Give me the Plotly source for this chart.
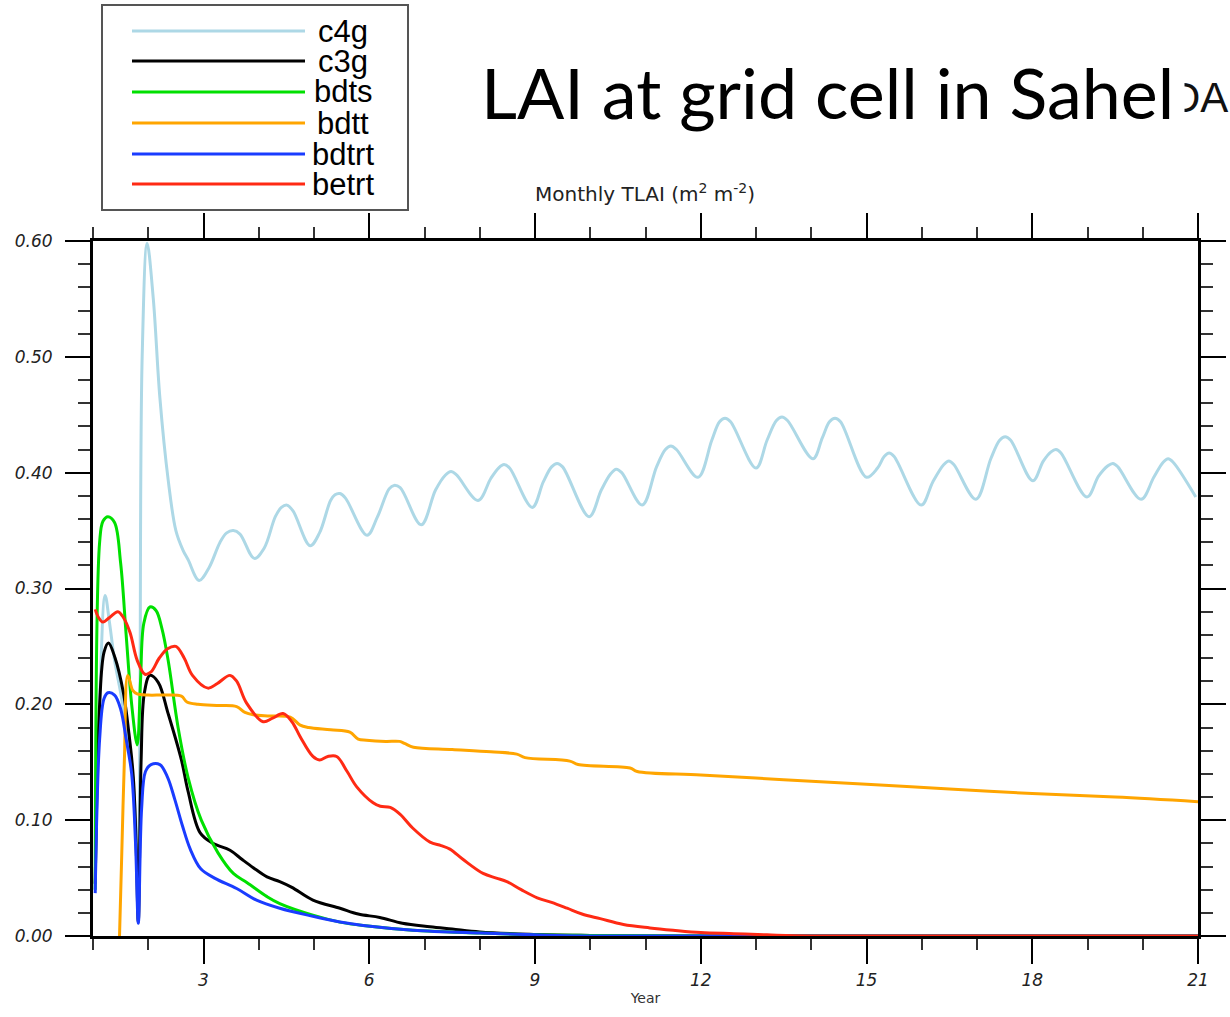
import plotly.graph_objects as go

# ---------------- data ----------------
series_names = ["c4g", "c3g", "bdts", "bdtt", "bdtrt", "betrt"]
series_colors = ["#add8e6", "#000000", "#00e000", "#ffa500", "#1a3cff", "#ff2a14"]

c4g_year = [1.04, 1.12, 1.22, 1.30, 1.39, 1.50, 1.58, 1.69, 1.78, 1.82, 1.85, 1.89, 1.98,
            2.09, 2.21, 2.36, 2.50, 2.63, 2.72, 2.92, 3.10, 3.30, 3.42, 3.54, 3.66, 3.92,
            4.10, 4.30, 4.41, 4.51, 4.62, 4.93, 5.10, 5.30, 5.38, 5.47, 5.57, 5.96, 6.15,
            6.36, 6.45, 6.56, 6.94, 7.20, 7.38, 7.48, 7.58, 7.97, 8.20, 8.34, 8.44, 8.54,
            8.95, 9.15, 9.30, 9.40, 9.50, 9.98, 10.20, 10.37, 10.47, 10.57, 10.94, 11.20,
            11.36, 11.46, 11.56, 11.95, 12.20, 12.34, 12.44, 12.54, 13.00, 13.20, 13.37,
            13.47, 13.57, 14.03, 14.20, 14.33, 14.43, 14.53, 15.00, 15.20, 15.32, 15.41,
            15.50, 15.99, 16.20, 16.40, 16.49, 16.58, 16.98, 17.25, 17.41, 17.51, 17.61,
            18.01, 18.20, 18.34, 18.43, 18.52, 18.99, 19.20, 19.37, 19.46, 19.55, 19.97,
            20.20, 20.37, 20.46, 20.55, 20.96]
c4g_lai = [0.040, 0.200, 0.294, 0.270, 0.238, 0.210, 0.186, 0.152, 0.094, 0.037, 0.200, 0.500, 0.598,
           0.551, 0.465, 0.394, 0.350, 0.333, 0.325, 0.307, 0.318, 0.340, 0.348, 0.350, 0.347, 0.326,
           0.335, 0.362, 0.370, 0.372, 0.367, 0.337, 0.348, 0.376, 0.381, 0.382, 0.378, 0.346, 0.362,
           0.386, 0.389, 0.387, 0.355, 0.385, 0.398, 0.401, 0.398, 0.376, 0.395, 0.404, 0.407, 0.404,
           0.370, 0.392, 0.405, 0.408, 0.405, 0.362, 0.385, 0.399, 0.403, 0.400, 0.372, 0.405,
           0.420, 0.423, 0.420, 0.396, 0.428, 0.444, 0.447, 0.444, 0.404, 0.428, 0.445,
           0.448, 0.445, 0.412, 0.430, 0.444, 0.447, 0.444, 0.396, 0.404, 0.414, 0.417,
           0.414, 0.372, 0.392, 0.407, 0.410, 0.407, 0.377, 0.412, 0.428, 0.431, 0.428,
           0.393, 0.410, 0.418, 0.420, 0.417, 0.379, 0.397, 0.406, 0.408, 0.405, 0.377,
           0.396, 0.409, 0.412, 0.409, 0.379]

c3g_year = [1.04, 1.12, 1.20, 1.28, 1.40, 1.55, 1.65, 1.73, 1.78, 1.82, 1.87, 1.93, 2.03,
            2.18, 2.36, 2.60, 2.72, 2.94, 3.17, 3.48, 3.70, 3.90, 4.15, 4.38, 4.60, 4.98,
            5.47, 5.80, 6.19, 6.60, 7.10, 7.50, 8.00, 8.90, 10.00, 11.00, 21.00]
c3g_lai = [0.045, 0.200, 0.245, 0.253, 0.240, 0.210, 0.175, 0.137, 0.080, 0.012, 0.150, 0.210, 0.225,
           0.219, 0.192, 0.152, 0.125, 0.089, 0.080, 0.074, 0.066, 0.059, 0.051, 0.047, 0.042, 0.031,
           0.024, 0.019, 0.016, 0.011, 0.008, 0.006, 0.0035, 0.0015, 0.0005, 0.0, 0.0]

bdts_year = [1.04, 1.12, 1.18, 1.27, 1.39, 1.50, 1.60, 1.70, 1.80, 1.86, 1.92, 2.03, 2.14,
             2.25, 2.36, 2.54, 2.72, 2.96, 3.26, 3.54, 3.79, 4.15, 4.38, 4.98, 5.47, 5.89,
             6.79, 8.00, 9.00, 10.00, 12.00, 21.00]
bdts_lai = [0.040, 0.340, 0.358, 0.362, 0.357, 0.322, 0.260, 0.200, 0.165, 0.220, 0.270, 0.284, 0.281,
            0.265, 0.238, 0.180, 0.137, 0.100, 0.072, 0.054, 0.046, 0.034, 0.028, 0.018, 0.012, 0.009,
            0.005, 0.0026, 0.001, 0.0005, 0.0, 0.0]

bdtt_year = [1.48, 1.52, 1.57, 1.63, 1.72, 1.80, 2.00, 2.30, 2.60, 2.70, 2.90, 3.30, 3.60,
             3.75, 3.90, 4.20, 4.57, 4.75, 4.90, 5.30, 5.65, 5.80, 5.95, 6.30, 6.55, 6.65,
             6.80, 7.50, 8.20, 8.67, 8.82, 9.63, 9.78, 10.72, 10.85, 12.00, 13.50, 15.00,
             16.50, 18.00, 19.50, 21.00]
bdtt_lai = [0.000, 0.070, 0.155, 0.225, 0.212, 0.209, 0.208, 0.208, 0.207, 0.202, 0.200, 0.199, 0.198,
            0.193, 0.191, 0.190, 0.189, 0.182, 0.180, 0.178, 0.176, 0.170, 0.169, 0.168, 0.168, 0.166,
            0.163, 0.161, 0.159, 0.157, 0.154, 0.151, 0.148, 0.145, 0.142, 0.139, 0.135, 0.131,
            0.127, 0.123, 0.120, 0.116]

bdtrt_year = [1.04, 1.12, 1.20, 1.27, 1.39, 1.50, 1.60, 1.70, 1.77, 1.82, 1.88, 1.95, 2.05,
              2.21, 2.35, 2.48, 2.62, 2.76, 2.95, 3.20, 3.60, 3.96, 4.38, 4.98, 5.47, 5.89,
              6.79, 8.00, 9.00, 10.00, 21.00]
bdtrt_lai = [0.037, 0.170, 0.205, 0.210, 0.208, 0.196, 0.170, 0.140, 0.080, 0.011, 0.110, 0.142, 0.148,
             0.148, 0.137, 0.118, 0.095, 0.075, 0.058, 0.050, 0.041, 0.031, 0.024, 0.017, 0.012, 0.009,
             0.005, 0.0025, 0.001, 0.0, 0.0]

betrt_year = [1.04, 1.10, 1.18, 1.30, 1.45, 1.55, 1.67, 1.80, 1.94, 2.05, 2.20, 2.35, 2.50,
              2.65, 2.80, 3.08, 3.25, 3.48, 3.60, 3.78, 4.08, 4.25, 4.44, 4.60, 4.75, 4.98,
              5.10, 5.25, 5.41, 5.60, 5.77, 6.07, 6.20, 6.38, 6.56, 6.79, 7.10, 7.30, 7.46,
              7.70, 8.06, 8.30, 8.49, 8.75, 9.04, 9.30, 9.58, 9.85, 10.18, 10.60, 11.08,
              11.50, 12.00, 12.60, 13.20, 14.00, 21.00]
betrt_lai = [0.282, 0.275, 0.271, 0.275, 0.280, 0.275, 0.262, 0.238, 0.226, 0.228, 0.240, 0.248, 0.250,
             0.240, 0.225, 0.214, 0.218, 0.225, 0.220, 0.201, 0.185, 0.188, 0.192, 0.185, 0.172, 0.155,
             0.152, 0.155, 0.155, 0.142, 0.129, 0.115, 0.112, 0.111, 0.105, 0.093, 0.081, 0.078, 0.075,
             0.066, 0.054, 0.050, 0.047, 0.040, 0.033, 0.029, 0.024, 0.019, 0.015, 0.010, 0.007,
             0.005, 0.003, 0.002, 0.001, 0.0, 0.0]

x_tick_vals = [3, 6, 9, 12, 15, 18, 21]
x_tick_text = ["3", "6", "9", "12", "15", "18", "21"]
y_tick_vals = [0.0, 0.1, 0.2, 0.3, 0.4, 0.5, 0.6]

series_x = [c4g_year, c3g_year, bdts_year, bdtt_year, bdtrt_year, betrt_year]
series_y = [c4g_lai, c3g_lai, bdts_lai, bdtt_lai, bdtrt_lai, betrt_lai]

# ---------------- layout geometry ----------------
W, H = 1230, 1017
ML, MR, MT, MB = 93, 32, 241, 81
PW, PH = W - ML - MR, H - MT - MB


def pxx(p):
    return (p - ML) / PW


def pxy(p):
    return (H - MB - p) / PH


fig = go.Figure()
for name, color, xs, ys in zip(series_names, series_colors, series_x, series_y):
    fig.add_trace(go.Scatter(x=xs, y=ys, mode="lines", name=name,
                             line=dict(color=color, width=3, shape="spline", smoothing=1.0),
                             showlegend=False))

tick_font = dict(family="DejaVu Sans", size=17, color="#222", style="italic")

fig.update_layout(
    width=W, height=H,
    margin=dict(l=ML, r=MR, t=MT, b=MB, pad=0, autoexpand=False),
    paper_bgcolor="white", plot_bgcolor="white",
    xaxis=dict(range=[1, 21], tickmode="array", tickvals=x_tick_vals, ticktext=x_tick_text,
               ticks="outside", ticklen=25, tickwidth=2, tickcolor="black",
               minor=dict(ticks="outside", tick0=1, dtick=1, ticklen=11, tickwidth=1.5, tickcolor="#333"),
               showline=True, linewidth=3, linecolor="black", mirror="allticks",
               showgrid=False, zeroline=False, tickfont=tick_font, ticklabelstandoff=2,
               automargin=False,
               title=dict(text="Year", font=dict(family="DejaVu Sans", size=14, color="#333"), standoff=4)),
    yaxis=dict(range=[0, 0.6], tickmode="array", tickvals=y_tick_vals, tickformat=".2f",
               ticks="outside", ticklen=25, tickwidth=2, tickcolor="black",
               minor=dict(ticks="outside", dtick=0.02, ticklen=12, tickwidth=1.5, tickcolor="#333"),
               showline=True, linewidth=3, linecolor="black", mirror="allticks",
               showgrid=False, zeroline=False, tickfont=tick_font, ticklabelstandoff=9,
               automargin=False),
)

# ---------------- legend box (drawn by hand) ----------------
shapes = [dict(type="rect", xref="paper", yref="paper",
               x0=pxx(102), x1=pxx(408), y0=pxy(210), y1=pxy(5),
               line=dict(color="#555", width=2), fillcolor="white", layer="above")]
annotations = []
leg_rows = [31, 61, 92, 123, 154, 184]
for name, color, ry in zip(series_names, series_colors, leg_rows):
    shapes.append(dict(type="line", xref="paper", yref="paper",
                       x0=pxx(132), x1=pxx(305), y0=pxy(ry), y1=pxy(ry),
                       line=dict(color=color, width=3), layer="above"))
    annotations.append(dict(xref="paper", yref="paper", x=pxx(343), y=pxy(ry),
                            text=name, showarrow=False, xanchor="center", yanchor="middle",
                            font=dict(family="Liberation Sans", size=31, color="black")))

# partially hidden text behind the title box
annotations.append(dict(xref="paper", yref="paper", x=pxx(1168), y=pxy(97), text="DA",
                        showarrow=False, xanchor="left", yanchor="middle",
                        font=dict(family="Liberation Sans", size=42, color="#111")))
# title
annotations.append(dict(xref="paper", yref="paper", x=pxx(470), y=pxy(92),
                        text="LAI at grid cell in Sahel", showarrow=False,
                        xanchor="left", yanchor="middle", bgcolor="white", borderpad=10,
                        font=dict(family="Lato", size=70, color="black")))
# subtitle
annotations.append(dict(xref="paper", yref="paper", x=pxx(645), y=pxy(193),
                        text="Monthly TLAI (m<sup>2</sup> m<sup>-2</sup>)", showarrow=False,
                        xanchor="center", yanchor="middle",
                        font=dict(family="DejaVu Sans", size=20, color="#222")))

fig.update_layout(shapes=shapes, annotations=annotations)
fig.write_html("out.html")
